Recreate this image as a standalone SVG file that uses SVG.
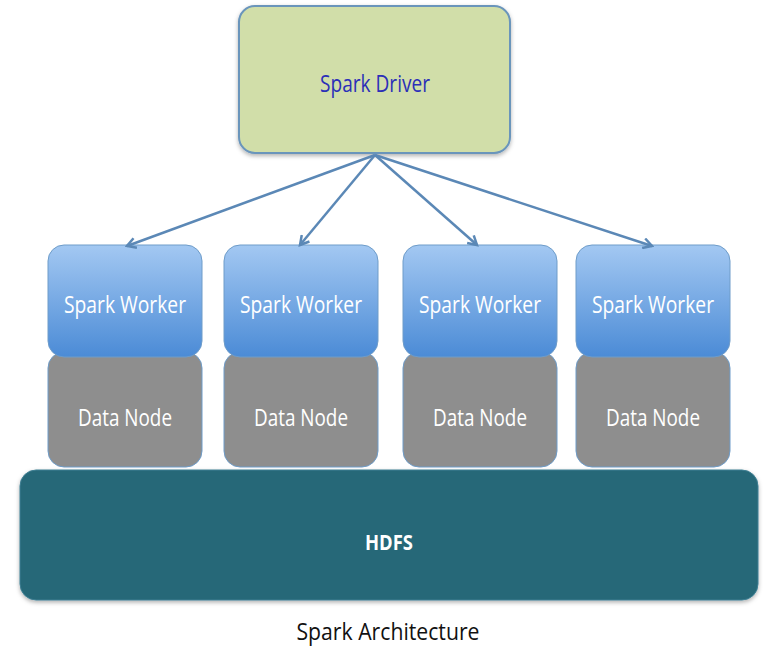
<svg xmlns="http://www.w3.org/2000/svg" width="763" height="647" viewBox="0 0 763 647">
<defs>
<linearGradient id="wg" x1="0" y1="0" x2="0" y2="1">
<stop offset="0" stop-color="#a3c8f2"/>
<stop offset="1" stop-color="#4b8bd6"/>
</linearGradient>
<filter id="sh" x="-5%" y="-5%" width="110%" height="115%">
<feDropShadow dx="0" dy="2" stdDeviation="2" flood-color="#000" flood-opacity="0.3"/>
</filter>
<marker id="ah" viewBox="0 0 10 10" refX="8" refY="5" markerWidth="5" markerHeight="5" orient="auto" markerUnits="strokeWidth">
<path d="M1,1 L8,5 L1,9" fill="none" stroke="#5b88b6" stroke-width="2"/>
</marker>
<style>
text{font-family:"Open Sans","Liberation Sans",sans-serif;text-anchor:middle;dominant-baseline:central}
.w{fill:url(#wg);stroke:#6e9cc9;stroke-width:1}
.d{fill:#8e8e8e;stroke:#6e9cc9;stroke-width:1}
.wt{fill:#ffffff;font-size:23px}
.c{stroke:#5b88b6;stroke-width:2.5;fill:none;marker-end:url(#ah)}
</style>
</defs>
<rect width="763" height="647" fill="#ffffff"/>
<g id="driver">
<rect x="239" y="6" width="271" height="147" rx="16" fill="#d1dea9" stroke="#6a95bb" stroke-width="2" filter="url(#sh)"/>
<text x="375" y="83" font-size="23" fill="#2b2fb8" textLength="110" lengthAdjust="spacingAndGlyphs">Spark Driver</text>
</g>
<g id="hdfs">
<rect x="20" y="470" width="738" height="130" rx="16" fill="#256878" stroke="#3f7f93" stroke-width="1" filter="url(#sh)"/>
<text x="389" y="541" font-size="22" font-weight="bold" fill="#ffffff" textLength="48" lengthAdjust="spacingAndGlyphs">HDFS</text>
</g>
<g id="data1"><rect class="d" x="48" y="352" width="154" height="115" rx="16"/><text class="wt" x="125" y="417" textLength="94" lengthAdjust="spacingAndGlyphs">Data Node</text></g>
<g id="data2"><rect class="d" x="224" y="352" width="154" height="115" rx="16"/><text class="wt" x="301" y="417" textLength="94" lengthAdjust="spacingAndGlyphs">Data Node</text></g>
<g id="data3"><rect class="d" x="403" y="352" width="154" height="115" rx="16"/><text class="wt" x="480" y="417" textLength="94" lengthAdjust="spacingAndGlyphs">Data Node</text></g>
<g id="data4"><rect class="d" x="576" y="352" width="154" height="115" rx="16"/><text class="wt" x="653" y="417" textLength="94" lengthAdjust="spacingAndGlyphs">Data Node</text></g>
<g id="worker1"><rect class="w" x="48" y="245" width="154" height="112" rx="16"/><text class="wt" x="125" y="304" textLength="122" lengthAdjust="spacingAndGlyphs">Spark Worker</text></g>
<g id="worker2"><rect class="w" x="224" y="245" width="154" height="112" rx="16"/><text class="wt" x="301" y="304" textLength="122" lengthAdjust="spacingAndGlyphs">Spark Worker</text></g>
<g id="worker3"><rect class="w" x="403" y="245" width="154" height="112" rx="16"/><text class="wt" x="480" y="304" textLength="122" lengthAdjust="spacingAndGlyphs">Spark Worker</text></g>
<g id="worker4"><rect class="w" x="576" y="245" width="154" height="112" rx="16"/><text class="wt" x="653" y="304" textLength="122" lengthAdjust="spacingAndGlyphs">Spark Worker</text></g>
<g id="connectors">
<line class="c" x1="375" y1="155" x2="127" y2="246"/>
<line class="c" x1="375" y1="155" x2="300" y2="245"/>
<line class="c" x1="375" y1="155" x2="477" y2="245"/>
<line class="c" x1="375" y1="155" x2="652" y2="246"/>
</g>
<text id="caption" x="388" y="631" font-size="23" fill="#111111" textLength="183" lengthAdjust="spacingAndGlyphs">Spark Architecture</text>
</svg>
